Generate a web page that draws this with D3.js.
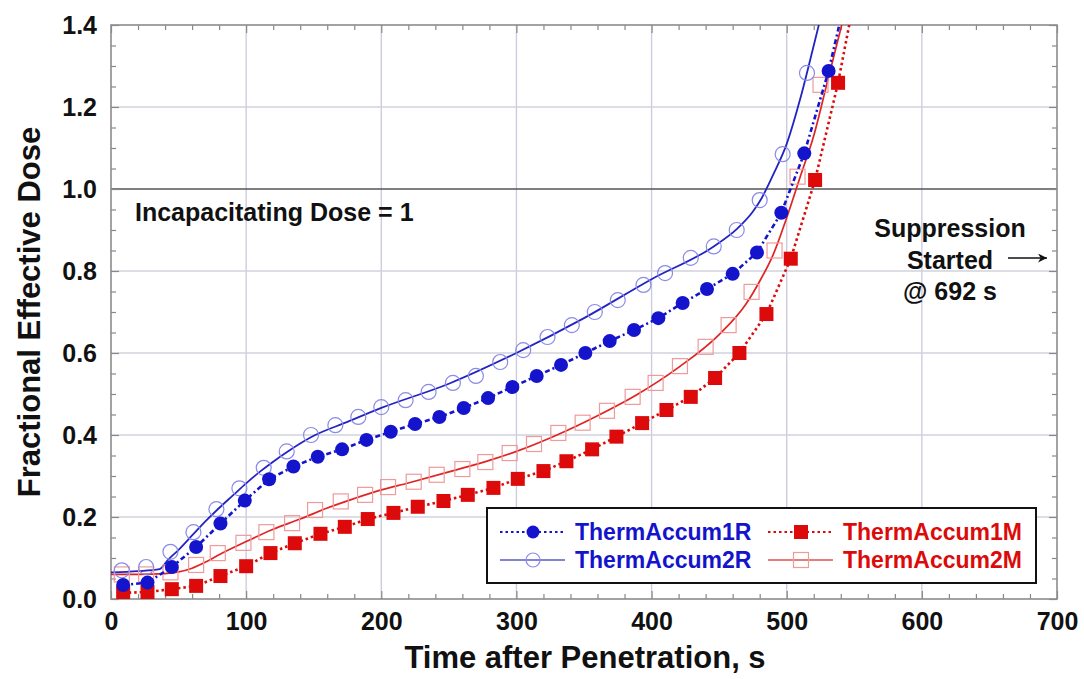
<!DOCTYPE html>
<html>
<head>
<meta charset="utf-8">
<script src="https://cdn.jsdelivr.net/npm/d3@7"></script>
<style>
  html, body { margin: 0; padding: 0; background: #fff; }
  svg text { font-family: "Liberation Sans", Arial, sans-serif; font-weight: bold; }
</style>
</head>
<body>
<svg id="chart" width="1084" height="679"></svg>
<script>
// ---------- DATA ----------
const xTicks = [0, 100, 200, 300, 400, 500, 600, 700];
const yTicks = [0.0, 0.2, 0.4, 0.6, 0.8, 1.0, 1.2, 1.4];

// ThermAccum1R (filled circles, dash-dot line)
const accum1R_t = [9, 27, 45, 63, 81, 99, 117, 135, 153, 171, 189, 207, 225, 243, 261, 279, 297, 315, 333, 351, 369, 387, 405, 423, 441, 460, 478, 496, 513, 531];
const accum1R_v = [0.034, 0.04, 0.078, 0.127, 0.184, 0.24, 0.292, 0.323, 0.347, 0.365, 0.388, 0.408, 0.427, 0.444, 0.466, 0.49, 0.517, 0.544, 0.571, 0.6, 0.629, 0.656, 0.685, 0.722, 0.756, 0.793, 0.845, 0.942, 1.087, 1.288];
const accum1R_lineEnd = [541, 1.43];

// ThermAccum2R (open circles on solid line)
const accum2R_t = [8, 26, 44, 61, 78, 95, 113, 130, 148, 166, 183, 200, 218, 235, 253, 270, 288, 305, 323, 341, 358, 375, 394, 410, 429, 446, 463, 480, 497, 515];
const accum2R_v = [0.07, 0.078, 0.115, 0.163, 0.219, 0.27, 0.32, 0.36, 0.4, 0.424, 0.444, 0.468, 0.485, 0.505, 0.527, 0.544, 0.578, 0.607, 0.639, 0.668, 0.7, 0.729, 0.766, 0.795, 0.832, 0.86, 0.9, 0.973, 1.085, 1.283];
const line2R_t = [0, 20, 36, 42, 50, 60, 70, 80, 90, 100, 110, 120, 130, 150, 175, 200, 250, 300, 350, 400, 446, 463, 475, 481, 490, 500, 510, 520, 526];
const line2R_v = [0.065, 0.068, 0.073, 0.095, 0.12, 0.155, 0.19, 0.222, 0.252, 0.282, 0.31, 0.335, 0.358, 0.398, 0.432, 0.466, 0.525, 0.6, 0.685, 0.78, 0.86, 0.902, 0.945, 0.975, 1.035, 1.11, 1.22, 1.35, 1.43];

// ThermAccum1M (filled squares, dotted line)
const accum1M_t = [9, 27, 45, 63, 81, 100, 118, 136, 155, 173, 190, 209, 227, 246, 264, 283, 301, 320, 337, 356, 374, 393, 411, 429, 447, 465, 485, 503, 521, 538];
const accum1M_v = [0.015, 0.017, 0.024, 0.032, 0.056, 0.08, 0.112, 0.136, 0.159, 0.176, 0.195, 0.21, 0.225, 0.239, 0.254, 0.271, 0.293, 0.312, 0.336, 0.365, 0.396, 0.429, 0.461, 0.493, 0.539, 0.6, 0.695, 0.83, 1.022, 1.259];
const accum1M_lineEnd = [548, 1.43];

// ThermAccum2M (open squares on solid line)
const accum2M_t = [8, 26, 44, 63, 79, 98, 115, 134, 151, 170, 188, 205, 224, 241, 260, 277, 295, 313, 331, 349, 367, 386, 403, 421, 440, 457, 474, 491, 508, 525];
const accum2M_v = [0.06, 0.06, 0.065, 0.083, 0.112, 0.137, 0.163, 0.185, 0.217, 0.238, 0.254, 0.273, 0.286, 0.303, 0.317, 0.334, 0.356, 0.378, 0.405, 0.43, 0.459, 0.493, 0.527, 0.568, 0.615, 0.668, 0.749, 0.85, 1.03, 1.254];
const line2M_t = [0, 20, 40, 50, 60, 70, 80, 100, 120, 140, 160, 180, 200, 220, 250, 280, 300, 330, 360, 390, 420, 450, 470, 480, 490, 500, 510, 520, 530, 543];
const line2M_v = [0.06, 0.06, 0.062, 0.066, 0.075, 0.09, 0.108, 0.14, 0.17, 0.195, 0.222, 0.245, 0.266, 0.283, 0.31, 0.338, 0.36, 0.4, 0.447, 0.5, 0.565, 0.645, 0.72, 0.775, 0.84, 0.93, 1.03, 1.13, 1.26, 1.43];

const legendLabels = ["ThermAccum1R", "ThermAccum2R", "ThermAccum1M", "ThermAccum2M"];

// ---------- LAYOUT ----------
const svg = d3.select("#chart");
const L = 111, R = 1057, T = 25, B = 599;
const x = d3.scaleLinear().domain([0, 700]).range([L, R]);
const y = d3.scaleLinear().domain([0, 1.4]).range([B, T]);

const BLUE = "#1414cc", RED = "#dc0a0a";
const BLUE_LIGHT = "#8a8ae8", RED_LIGHT = "#f09a9a";

svg.append("defs").append("clipPath").attr("id", "clip")
  .append("rect").attr("x", L).attr("y", T).attr("width", R - L).attr("height", B - T);
const defs = svg.select("defs");
defs.append("marker").attr("id", "arrow").attr("viewBox", "0 0 10 10")
  .attr("refX", 10).attr("refY", 5).attr("markerWidth", 14).attr("markerHeight", 9)
  .attr("markerUnits", "userSpaceOnUse").attr("orient", "auto")
  .append("path").attr("d", "M0,0 L10,5 L0,10 L3,5 Z").attr("fill", "#111");

// gridlines
const grid = svg.append("g");
grid.selectAll("line.v").data(xTicks.filter(d => d > 0 && d < 700)).join("line")
  .attr("x1", d => x(d)).attr("x2", d => x(d)).attr("y1", T).attr("y2", B)
  .attr("stroke", "#c9c9df").attr("stroke-width", 1.3);
grid.selectAll("line.h").data(yTicks.filter(d => d > 0 && d < 1.4)).join("line")
  .attr("x1", L).attr("x2", R).attr("y1", d => y(d)).attr("y2", d => y(d))
  .attr("stroke", d => d === 1.0 ? "#555" : "#d2d2dc").attr("stroke-width", d => d === 1.0 ? 1.6 : 1.3);

// axes
function styleAxis(g) {
  g.select(".domain").remove();
  g.selectAll(".tick line").attr("stroke", "#888").attr("stroke-width", 1.2);
  g.selectAll("text").attr("fill", "#111").style("font-size", "25px");
}
const xMinor = d3.range(0, 701, 20).filter(d => d % 100 !== 0);
const yMinor = d3.range(0, 1.401, 0.05).map(d => +d.toFixed(2)).filter(d => Math.round(d * 100) % 20 !== 0);

svg.append("g").attr("transform", `translate(0,${B})`)
  .call(d3.axisBottom(x).tickValues(xTicks).tickSize(-8).tickPadding(13).tickFormat(d3.format("d"))).call(styleAxis);
svg.append("g").attr("transform", `translate(0,${B})`)
  .call(d3.axisBottom(x).tickValues(xMinor).tickSize(-5).tickFormat("")).call(styleAxis);
svg.append("g").attr("transform", `translate(0,${T})`)
  .call(d3.axisTop(x).tickValues(xTicks).tickSize(-8).tickFormat("")).call(styleAxis);
svg.append("g").attr("transform", `translate(0,${T})`)
  .call(d3.axisTop(x).tickValues(xMinor).tickSize(-5).tickFormat("")).call(styleAxis);
svg.append("g").attr("transform", `translate(${L},0)`)
  .call(d3.axisLeft(y).tickValues(yTicks).tickSize(-8).tickPadding(14).tickFormat(d3.format(".1f"))).call(styleAxis);
svg.append("g").attr("transform", `translate(${L},0)`)
  .call(d3.axisLeft(y).tickValues(yMinor).tickSize(-5).tickFormat("")).call(styleAxis);
svg.append("g").attr("transform", `translate(${R},0)`)
  .call(d3.axisRight(y).tickValues(yTicks).tickSize(-8).tickFormat("")).call(styleAxis);
svg.append("g").attr("transform", `translate(${R},0)`)
  .call(d3.axisRight(y).tickValues(yMinor).tickSize(-5).tickFormat("")).call(styleAxis);

// frame
svg.append("rect").attr("x", L).attr("y", T).attr("width", R - L).attr("height", B - T)
  .attr("fill", "none").attr("stroke", "#8c8c8c").attr("stroke-width", 1.6);

// ---------- SERIES ----------
const plot = svg.append("g").attr("clip-path", "url(#clip)");
const zip = (ts, vs) => ts.map((t, i) => [t, vs[i]]);
const smooth = d3.line().x(d => x(d[0])).y(d => y(d[1])).curve(d3.curveMonotoneX);
const straight = d3.line().x(d => x(d[0])).y(d => y(d[1]));

const pts1R = zip(accum1R_t, accum1R_v);
const pts2R = zip(accum2R_t, accum2R_v);
const pts1M = zip(accum1M_t, accum1M_v);
const pts2M = zip(accum2M_t, accum2M_v);

// solid lines
plot.append("path").datum(zip(line2M_t, line2M_v)).attr("d", smooth)
  .attr("fill", "none").attr("stroke", "#e02424").attr("stroke-width", 1.7);
plot.append("path").datum(zip(line2R_t, line2R_v)).attr("d", smooth)
  .attr("fill", "none").attr("stroke", "#2323c4").attr("stroke-width", 1.8);

// open markers
plot.selectAll("rect.o2M").data(pts2M).join("rect")
  .attr("x", d => x(d[0]) - 7.5).attr("y", d => y(d[1]) - 7.5).attr("width", 15).attr("height", 15)
  .attr("fill", "none").attr("stroke", RED_LIGHT).attr("stroke-width", 1.2);
plot.selectAll("circle.o2R").data(pts2R).join("circle")
  .attr("cx", d => x(d[0])).attr("cy", d => y(d[1])).attr("r", 7.5)
  .attr("fill", "none").attr("stroke", BLUE_LIGHT).attr("stroke-width", 1.2);

// dotted lines
plot.append("path").datum(pts1M.concat([accum1M_lineEnd])).attr("d", straight)
  .attr("fill", "none").attr("stroke", RED).attr("stroke-width", 2.6).attr("stroke-dasharray", "2.5,3");
plot.append("path").datum(pts1R.concat([accum1R_lineEnd])).attr("d", straight)
  .attr("fill", "none").attr("stroke", BLUE).attr("stroke-width", 2.6).attr("stroke-dasharray", "5,3,2,3");

// filled markers
plot.selectAll("rect.f1M").data(pts1M).join("rect")
  .attr("x", d => x(d[0]) - 7).attr("y", d => y(d[1]) - 7).attr("width", 14).attr("height", 14)
  .attr("fill", RED);
plot.selectAll("circle.f1R").data(pts1R).join("circle")
  .attr("cx", d => x(d[0])).attr("cy", d => y(d[1])).attr("r", 7)
  .attr("fill", BLUE);

// ---------- TITLES & ANNOTATIONS ----------
svg.append("text").attr("x", 585).attr("y", 668).attr("text-anchor", "middle")
  .style("font-size", "31px").attr("fill", "#111").text("Time after Penetration, s");
svg.append("text").attr("transform", "translate(40,312) rotate(-90)").attr("text-anchor", "middle")
  .style("font-size", "31px").attr("fill", "#111").text("Fractional Effective Dose");

svg.append("text").attr("x", 135).attr("y", 221).style("font-size", "25px").attr("fill", "#111")
  .text("Incapacitating Dose = 1");
const supp = ["Suppression", "Started", "@ 692 s"];
svg.selectAll("text.supp").data(supp).join("text")
  .attr("x", 950).attr("y", (d, i) => 237 + i * 31.5).attr("text-anchor", "middle")
  .style("font-size", "25px").attr("fill", "#111").text(d => d);
svg.append("line").attr("x1", 1008).attr("x2", 1047).attr("y1", 258).attr("y2", 258)
  .attr("stroke", "#111").attr("stroke-width", 1.3).attr("marker-end", "url(#arrow)");

// ---------- LEGEND ----------
const lg = svg.append("g");
lg.append("rect").attr("x", 487).attr("y", 508).attr("width", 549).attr("height", 75)
  .attr("fill", "#fff").attr("stroke", "#111").attr("stroke-width", 2);
const legendItems = [
  { label: legendLabels[0], col: BLUE, x0: 500, yy: 532, dash: "2.5,3", marker: "fcircle" },
  { label: legendLabels[1], col: BLUE, x0: 500, yy: 560, dash: null, marker: "ocircle" },
  { label: legendLabels[2], col: RED, x0: 768, yy: 532, dash: "2.5,3", marker: "fsquare" },
  { label: legendLabels[3], col: RED, x0: 768, yy: 560, dash: null, marker: "osquare" }
];
legendItems.forEach(it => {
  const g = lg.append("g");
  const mx = it.x0 + 33;
  g.append("line").attr("x1", it.x0).attr("x2", it.x0 + 65).attr("y1", it.yy).attr("y2", it.yy)
    .attr("stroke", it.dash ? it.col : (it.col === BLUE ? "#5a5ac8" : "#e05050"))
    .attr("stroke-width", it.dash ? 2.2 : 1.6)
    .attr("stroke-dasharray", it.dash);
  if (it.marker === "fcircle") g.append("circle").attr("cx", mx).attr("cy", it.yy).attr("r", 6.5).attr("fill", it.col);
  if (it.marker === "ocircle") g.append("circle").attr("cx", mx).attr("cy", it.yy).attr("r", 7).attr("fill", "none").attr("stroke", BLUE_LIGHT).attr("stroke-width", 1.2);
  if (it.marker === "fsquare") g.append("rect").attr("x", mx - 7).attr("y", it.yy - 7).attr("width", 14).attr("height", 14).attr("fill", it.col);
  if (it.marker === "osquare") g.append("rect").attr("x", mx - 7.5).attr("y", it.yy - 7.5).attr("width", 15).attr("height", 15).attr("fill", "none").attr("stroke", RED_LIGHT).attr("stroke-width", 1.2);
  g.append("text").attr("x", it.x0 + 75).attr("y", it.yy + 8).style("font-size", "23px")
    .attr("fill", it.col).text(it.label);
});
</script>
</body>
</html>
